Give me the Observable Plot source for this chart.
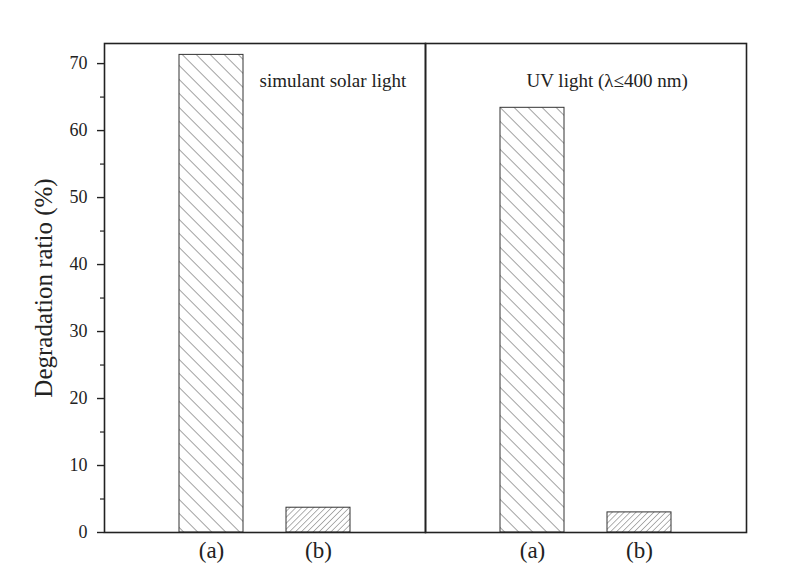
<!DOCTYPE html>
<html>
<head>
<meta charset="utf-8">
<script src="https://cdn.jsdelivr.net/npm/d3@7"></script>
<script src="https://cdn.jsdelivr.net/npm/@observablehq/plot@0.6"></script>
<style>
  html, body { margin: 0; padding: 0; background: #fff; }
  svg { font-family: "Liberation Serif", "DejaVu Serif", serif; }
</style>
</head>
<body>
<div id="chart"></div>
<script>
const panels = ["simulant solar light", "UV light (λ≤400 nm)"];
const categories = ["(a)", "(b)"];
const solarValues = [71.3, 3.7];
const uvValues = [63.4, 3.0];
const yMajorTicks = [0, 10, 20, 30, 40, 50, 60, 70];
const yMinorTicks = [5, 15, 25, 35, 45, 55, 65];

const data = [
  ...categories.map((c, i) => ({panel: panels[0], cat: c, value: solarValues[i]})),
  ...categories.map((c, i) => ({panel: panels[1], cat: c, value: uvValues[i]}))
];
const labels = panels.map(p => ({panel: p, text: p}));

const plot = Plot.plot({
  width: 800,
  height: 583,
  marginLeft: 103,
  marginRight: 54,
  marginTop: 43,
  marginBottom: 51,
  style: {fontFamily: "'Liberation Serif', serif", background: "#fff", color: "#222"},
  fx: {domain: panels, padding: 0, axis: null, label: null},
  x: {domain: categories, paddingInner: 0.403, paddingOuter: 0.7015, label: null},
  y: {domain: [0, 73], label: null},
  marks: [
    Plot.barY(data.filter(d => d.cat === "(a)"), {fx: "panel", x: "cat", y: "value", fill: "url(#hatchA)", stroke: "#333", strokeWidth: 1}),
    Plot.barY(data.filter(d => d.cat === "(b)"), {fx: "panel", x: "cat", y: "value", fill: "url(#hatchB)", stroke: "#333", strokeWidth: 1}),
    Plot.frame({stroke: "#222", strokeWidth: 1.6}),
    Plot.axisX({tickSize: 0, tickPadding: 9, fontSize: 23, label: null, stroke: "none"}),
    Plot.axisY({ticks: yMajorTicks, tickSize: 7, tickPadding: 10, fontSize: 18, label: null, strokeWidth: 1.4}),
    Plot.axisY({ticks: yMinorTicks, tickSize: 4, text: null, label: null, strokeWidth: 1.2}),
    Plot.axisY({ticks: [], label: "Degradation ratio (%)", labelAnchor: "center", labelArrow: "none", labelOffset: 70, fontSize: 25}),
    Plot.text(labels.filter(d => d.panel === panels[0]), {fx: "panel", text: "text", frameAnchor: "top-left", textAnchor: "start", lineAnchor: "middle", dx: 155, dy: 37, fontSize: 19, fill: "#222"}),
    Plot.text(labels.filter(d => d.panel === panels[1]), {fx: "panel", text: "text", frameAnchor: "top-left", textAnchor: "start", lineAnchor: "middle", dx: 101, dy: 37, fontSize: 19, fill: "#222"})
  ]
});

const ns = "http://www.w3.org/2000/svg";
const svg = plot.tagName.toLowerCase() === "svg" ? plot : plot.querySelector("svg");
const defs = document.createElementNS(ns, "defs");
defs.innerHTML = `
  <pattern id="hatchA" patternUnits="userSpaceOnUse" width="9.9" height="9.9" patternTransform="rotate(-45)">
    <rect width="9.9" height="9.9" fill="#fff"/>
    <line x1="0" y1="-1" x2="0" y2="11" stroke="#555" stroke-width="1.1"/>
  </pattern>
  <pattern id="hatchB" patternUnits="userSpaceOnUse" width="4.2" height="4.2" patternTransform="rotate(45)">
    <rect width="4.2" height="4.2" fill="#fff"/>
    <line x1="0" y1="-1" x2="0" y2="6" stroke="#555" stroke-width="0.9"/>
  </pattern>`;
svg.insertBefore(defs, svg.firstChild);
document.getElementById("chart").appendChild(plot);
</script>
</body>
</html>
